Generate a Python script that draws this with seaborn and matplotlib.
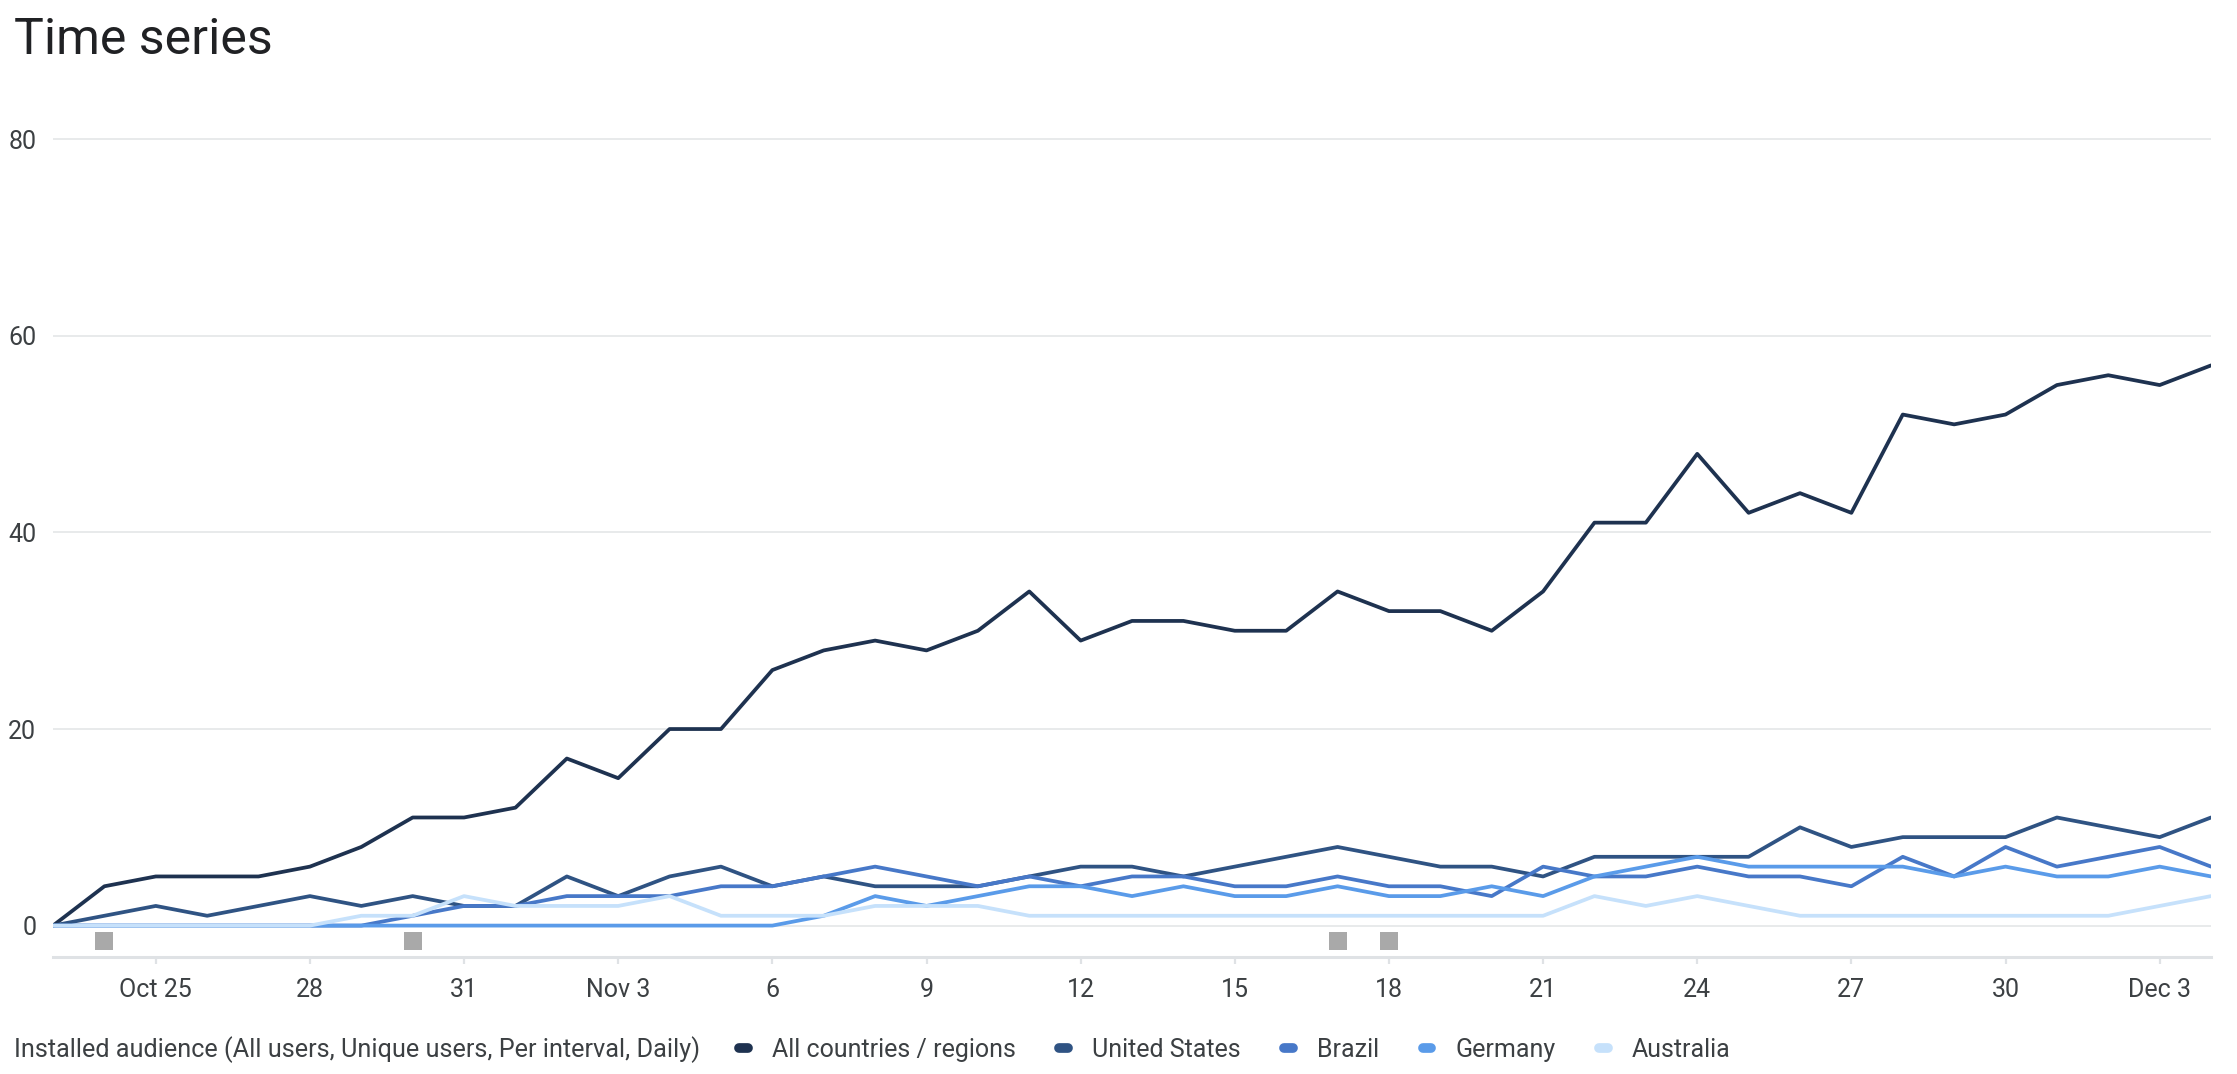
import pandas as pd
import matplotlib.pyplot as plt
from matplotlib.lines import Line2D
import seaborn as sns

# Daily values, Oct 23 .. Dec 4
start_date = "2023-10-23"
n_days = 43
all_regions = [0, 4, 5, 5, 5, 6, 8, 11, 11, 12, 17, 15, 20, 20, 26, 28, 29, 28, 30, 34,
               29, 31, 31, 30, 30, 34, 32, 32, 30, 34, 41, 41, 48, 42, 44, 42, 52, 51, 52, 55,
               56, 55, 57]
united_states = [0, 1, 2, 1, 2, 3, 2, 3, 2, 2, 5, 3, 5, 6, 4, 5, 4, 4, 4, 5,
                 6, 6, 5, 6, 7, 8, 7, 6, 6, 5, 7, 7, 7, 7, 10, 8, 9, 9, 9, 11,
                 10, 9, 11]
brazil = [0, 0, 0, 0, 0, 0, 0, 1, 2, 2, 3, 3, 3, 4, 4, 5, 6, 5, 4, 5,
          4, 5, 5, 4, 4, 5, 4, 4, 3, 6, 5, 5, 6, 5, 5, 4, 7, 5, 8, 6,
          7, 8, 6]
germany = [0, 0, 0, 0, 0, 0, 0, 0, 0, 0, 0, 0, 0, 0, 0, 1, 3, 2, 3, 4,
           4, 3, 4, 3, 3, 4, 3, 3, 4, 3, 5, 6, 7, 6, 6, 6, 6, 5, 6, 5,
           5, 6, 5]
australia = [0, 0, 0, 0, 0, 0, 1, 1, 3, 2, 2, 2, 3, 1, 1, 1, 2, 2, 2, 1,
             1, 1, 1, 1, 1, 1, 1, 1, 1, 1, 3, 2, 3, 2, 1, 1, 1, 1, 1, 1,
             1, 2, 3]

series_names = ["All countries / regions", "United States", "Brazil", "Germany", "Australia"]
series_colors = ["#1e3250", "#2f5383", "#4778c8", "#5a9be9", "#c6e1fb"]

# annotation markers under the zero line
event_dates = ["2023-10-24", "2023-10-30", "2023-11-17", "2023-11-18"]

tick_dates = ["2023-10-25", "2023-10-28", "2023-10-31", "2023-11-03", "2023-11-06",
              "2023-11-09", "2023-11-12", "2023-11-15", "2023-11-18", "2023-11-21",
              "2023-11-24", "2023-11-27", "2023-11-30", "2023-12-03"]
tick_labels = ["Oct 25", "28", "31", "Nov 3", "6", "9", "12", "15", "18", "21",
               "24", "27", "30", "Dec 3"]

dates = pd.date_range(start_date, periods=n_days, freq="D")
frames = []
for name, vals in zip(series_names, [all_regions, united_states, brazil, germany, australia]):
    frames.append(pd.DataFrame({"date": dates, "value": vals, "series": name}))
df = pd.concat(frames, ignore_index=True)

sns.set_theme(style="white")
plt.rcParams["font.family"] = ["Roboto", "DejaVu Sans"]

fig = plt.figure(figsize=(22.37, 10.74), dpi=100)
ax = fig.add_axes([0.0237, 0.1089, 0.9647, 0.7650])

sns.lineplot(data=df, x="date", y="value", hue="series", hue_order=series_names,
             palette=series_colors, linewidth=2.7, legend=False, ax=ax, zorder=3)

ev = pd.to_datetime(event_dates)
ax.scatter(ev, [-1.6] * len(ev), marker="s", s=170, color="#a9a9a9", linewidths=0, zorder=4)

ax.set_xlim(dates[0], dates[-1])
ax.set_ylim(-3.2, 80.4)
ax.set_yticks([0, 20, 40, 60, 80])
ax.yaxis.grid(True, color="#e1e4e6", linewidth=1.1)
ax.xaxis.grid(False)
ax.set_xticks(pd.to_datetime(tick_dates))
ax.set_xticklabels(tick_labels)
ax.set_xlabel("")
ax.set_ylabel("")

for side in ["top", "right", "left"]:
    ax.spines[side].set_visible(False)
ax.spines["bottom"].set_color("#dfe2e5")
ax.spines["bottom"].set_linewidth(2.2)

ax.tick_params(axis="x", length=5, width=1.6, color="#dfe2e5", pad=10,
               labelsize=18, labelcolor="#3c4043", bottom=True)
ax.tick_params(axis="y", length=0, pad=12, labelsize=18, labelcolor="#3c4043")

fig.text(0.0063, 0.9497, "Time series", fontsize=36, color="#202124",
         va="baseline", ha="left")

fig.text(0.0063, 0.0225, "Installed audience (All users, Unique users, Per interval, Daily)",
         fontsize=18.2, color="#3c4043", va="center", ha="left")

handles = [Line2D([0], [0], color=c, lw=7, solid_capstyle="round") for c in series_colors]
fig.legend(handles, series_names, loc="center left", bbox_to_anchor=(0.3305, 0.0225),
           ncol=5, frameon=False, fontsize=18, labelcolor="#3c4043",
           handlelength=0.35, handletextpad=0.95, columnspacing=1.75, borderpad=0,
           borderaxespad=0)

fig.savefig("out.png", dpi=100)
plt.close(fig)
